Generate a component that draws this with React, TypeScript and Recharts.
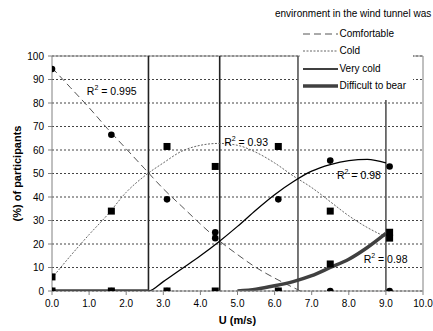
import React from 'react';
import {
  ComposedChart,
  Line,
  Scatter,
  XAxis,
  YAxis,
  CartesianGrid,
  ReferenceLine,
  ReferenceDot,
  Legend,
} from 'recharts';

// ---- observed data ----
const U = [0, 1.6, 3.1, 4.4, 6.1, 7.5, 9.1];
const COMFORTABLE = [94.5, 66.5, 39, 25, 0, 0, 0];
const COLD = [6, 34, 61.5, 53, 61.5, 34, 22.5];
const VERY_COLD = [0, 0, 0, 22.5, 39, 55.5, 53];
const DIFFICULT = [0, 0, 0, 0, 0, 11.5, 25];

// ---- trend lines ----
const COMF_TREND_U = [0, 0.5, 1, 1.5, 2, 2.5, 3, 3.5, 4, 4.5, 5, 5.5, 6, 6.5, 6.7];
const COMF_TREND = [95, 86.5, 78, 69, 60.5, 52, 43.5, 36, 28.5, 21.5, 15.5, 10, 5.5, 1.5, 0];
const COLD_TREND_U = [0, 0.5, 1, 1.5, 2, 2.5, 3, 3.5, 4, 4.5, 5, 5.5, 6, 6.5, 7, 7.5, 8, 8.5, 9];
const COLD_TREND = [5.5, 15, 24, 32.5, 42, 49, 54.5, 59.5, 62, 62.8, 62, 59, 54.5, 49, 44, 38, 32, 27, 23];
const VCOLD_TREND_U = [0, 1, 2, 2.6, 3, 3.5, 4, 4.5, 5, 5.5, 6, 6.5, 7, 7.5, 8, 8.5, 9];
const VCOLD_TREND = [0, 0, 0, 0, 4, 9.5, 15, 21, 27.5, 34.5, 41, 46.5, 51, 53.8, 55.5, 56, 54.5];
const DIFF_TREND_U = [0, 1, 2, 2.6, 3, 5, 5.5, 6, 6.5, 7, 7.5, 8, 8.5, 9];
const DIFF_TREND = [0, 0, 0, 0, null, 0, 0.8, 2.2, 4, 6.5, 10, 13.5, 18.5, 24.5];

// ---- boundaries between comfort classes ----
const BOUNDARIES = [2.6, 4.52, 6.63, 9.0];

// ---- axis ticks ----
const X_TICKS = [0, 1, 2, 3, 4, 5, 6, 7, 8, 9, 10];
const Y_TICKS = [0, 10, 20, 30, 40, 50, 60, 70, 80, 90, 100];

// ---- texts ----
const LEGEND_TITLE = 'environment in the wind tunnel was';
const SERIES_NAMES = ['Comfortable', 'Cold', 'Very cold', 'Difficult to bear'];
const R2_LABELS = ['0.995', '0.93', '0.98', '0.98'];
const R2_U = [0.94, 4.64, 7.68, 8.4];
const R2_V = [85.2, 63.5, 49.4, 13.6];

const FONT = '"Liberation Sans", Arial, Helvetica, sans-serif';

const pts = (xs: number[], ys: (number | null)[]) => xs.map((u, i) => ({ u, v: ys[i] }));

const circleShape = (p: any) => <circle cx={p.cx} cy={p.cy} r={3.3} fill="#000" />;
const squareShape = (p: any) => (
  <rect x={p.cx - 3.5} y={p.cy - 3.5} width={7} height={7} fill="#000" />
);

const r2Shape = (text: string) => (p: any) => (
  <text x={p.cx} y={p.cy + 4} fontFamily={FONT} fontSize={10.5} fill="#000">
    R
    <tspan dy={-5} fontSize={7}>
      2
    </tspan>
    <tspan dy={5}>{' = ' + text}</tspan>
  </text>
);

const LEGEND_STYLES = [
  { stroke: '#555', width: 1, dash: '7 4' },
  { stroke: '#666', width: 1, dash: '2 1.5' },
  { stroke: '#000', width: 1.3, dash: undefined },
  { stroke: '#404040', width: 3.5, dash: undefined },
];

const renderLegend = () => (
  <div style={{ position: 'relative', width: 433, height: 100, fontFamily: FONT, fontSize: 10, color: '#000' }}>
    <div style={{ position: 'absolute', left: 275, top: 8, whiteSpace: 'nowrap', lineHeight: '12px' }}>
      {LEGEND_TITLE}
    </div>
    <div style={{ position: 'absolute', left: 300, top: 25, width: 113, height: 75, background: '#fff' }}>
      {SERIES_NAMES.map((name, i) => (
        <div
          key={name}
          style={{ position: 'absolute', left: 0, top: 9 + 17.3 * i - 6, height: 12, width: 113 }}
        >
          <svg width={36} height={12} style={{ position: 'absolute', left: 3, top: 0 }}>
            <line
              x1={0}
              y1={6}
              x2={35}
              y2={6}
              stroke={LEGEND_STYLES[i].stroke}
              strokeWidth={LEGEND_STYLES[i].width}
              strokeDasharray={LEGEND_STYLES[i].dash}
            />
          </svg>
          <span style={{ position: 'absolute', left: 39.5, top: 0, lineHeight: '12px', whiteSpace: 'nowrap' }}>
            {name}
          </span>
        </div>
      ))}
    </div>
  </div>
);

export default function App() {
  return (
    <div style={{ position: 'absolute', left: 0, top: 0 }}>
      <ComposedChart width={433} height={331} margin={{ top: 56, right: 10, bottom: 0, left: 0 }}>
        <CartesianGrid vertical={false} stroke="#444" strokeDasharray="2 2" />
        <XAxis
          dataKey="u"
          type="number"
          domain={[0, 10]}
          ticks={X_TICKS}
          allowDataOverflow
          height={40}
          stroke="#808080"
          tickSize={4}
          tickMargin={5}
          tickFormatter={(v: number) => v.toFixed(1)}
          tick={{ fill: '#000', fontSize: 10, fontFamily: FONT }}
          label={{
            content: (props: any) => {
              const vb = props.viewBox || {};
              return (
                <text
                  x={vb.x + vb.width / 2}
                  y={vb.y + 33}
                  textAnchor="middle"
                  fontFamily={FONT}
                  fontSize={11}
                  fontWeight="bold"
                  fill="#000"
                >
                  U (m/s)
                </text>
              );
            },
          }}
        />
        <YAxis
          type="number"
          domain={[0, 100]}
          ticks={Y_TICKS}
          allowDataOverflow
          width={52}
          stroke="#808080"
          tickSize={4}
          tickMargin={4}
          tick={{ fill: '#000', fontSize: 10, fontFamily: FONT }}
          label={{
            content: (props: any) => {
              const vb = props.viewBox || {};
              const x = vb.x + 21;
              const y = vb.y + vb.height / 2;
              return (
                <text
                  x={x}
                  y={y}
                  transform={`rotate(-90 ${x} ${y})`}
                  textAnchor="middle"
                  fontFamily={FONT}
                  fontSize={11}
                  fontWeight="bold"
                  fill="#000"
                >
                  (%) of participants
                </text>
              );
            },
          }}
        />
        <ReferenceLine y={100} stroke="#808080" strokeWidth={1} />
        <ReferenceLine x={10} stroke="#808080" strokeWidth={1} />
        {BOUNDARIES.map((b, i) => (
          <ReferenceLine key={b} x={b} stroke={i < 2 ? '#222' : '#555'} strokeWidth={1.6} />
        ))}

        <Line
          data={pts(COMF_TREND_U, COMF_TREND)}
          dataKey="v"
          type="monotone"
          stroke="#555"
          strokeWidth={1}
          strokeDasharray="7 4"
          dot={false}
          isAnimationActive={false}
        />
        <Line
          data={pts(COLD_TREND_U, COLD_TREND)}
          dataKey="v"
          type="monotone"
          stroke="#666"
          strokeWidth={1}
          strokeDasharray="2 1.5"
          dot={false}
          isAnimationActive={false}
        />
        <Line
          data={pts(DIFF_TREND_U, DIFF_TREND)}
          dataKey="v"
          type="monotone"
          stroke="#404040"
          strokeWidth={3.5}
          connectNulls={false}
          dot={false}
          isAnimationActive={false}
        />
        <Line
          data={pts(VCOLD_TREND_U, VCOLD_TREND)}
          dataKey="v"
          type="monotone"
          stroke="#000"
          strokeWidth={1.3}
          dot={false}
          isAnimationActive={false}
        />

        <Scatter data={pts(U, COLD)} dataKey="v" shape={squareShape} isAnimationActive={false} />
        <Scatter data={pts(U, DIFFICULT)} dataKey="v" shape={squareShape} isAnimationActive={false} />
        <Scatter data={pts(U, COMFORTABLE)} dataKey="v" shape={circleShape} isAnimationActive={false} />
        <Scatter data={pts(U, VERY_COLD)} dataKey="v" shape={circleShape} isAnimationActive={false} />

        {R2_LABELS.map((t, i) => (
          <ReferenceDot
            key={i}
            x={R2_U[i]}
            y={R2_V[i]}
            r={0}
            ifOverflow="visible"
            shape={r2Shape(t)}
          />
        ))}

        <Legend
          layout="vertical"
          align="center"
          verticalAlign="middle"
          content={renderLegend}
          wrapperStyle={{ position: 'absolute', left: 0, top: 0, width: 433, height: 100, margin: 0 }}
        />
      </ComposedChart>
    </div>
  );
}
